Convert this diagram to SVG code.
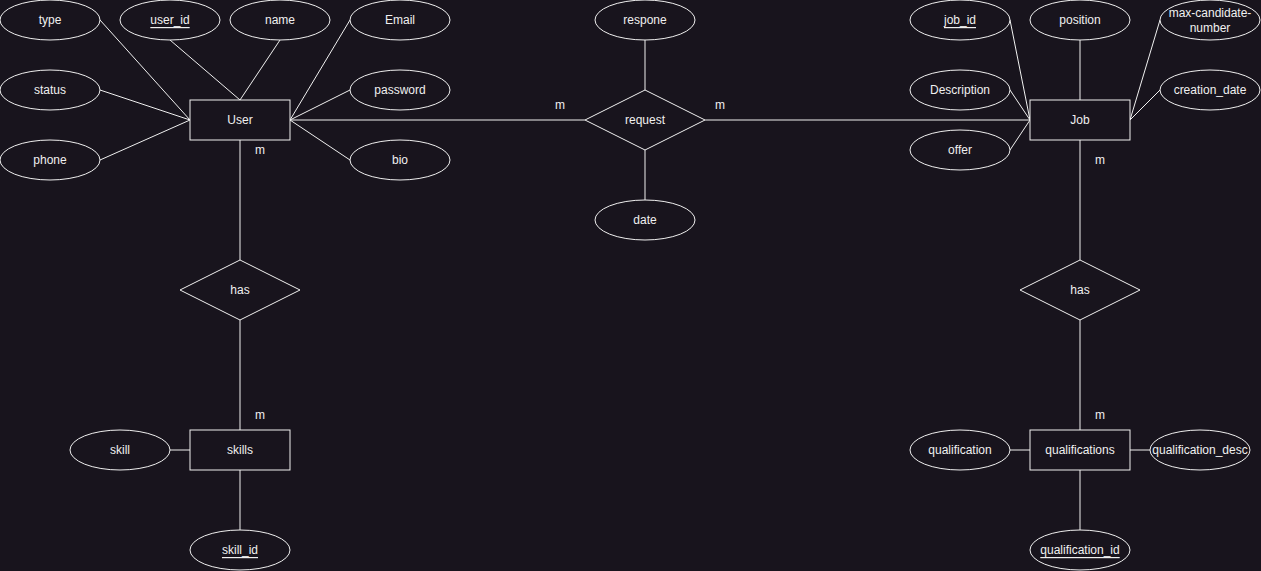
<svg xmlns="http://www.w3.org/2000/svg" width="1261" height="571" viewBox="0 0 1261 571">
  <style>
    .bg { fill: #18141d; }
    .shape { fill: #18141d; stroke: #f0f0f0; stroke-width: 1; }
    .edge { stroke: #f0f0f0; stroke-width: 1; fill: none; }
    text { font-family: "Liberation Sans", Arial, sans-serif; font-size: 12px; fill: #f0f0f0; text-anchor: middle; dominant-baseline: central; }
    .key { text-decoration: underline; }
  </style>
  <rect class="bg" x="0" y="0" width="1261" height="571"/>

  <!-- connectors -->
  <g id="connectors">
    <!-- User attributes -->
    <line class="edge" x1="100" y1="20" x2="190" y2="120"/>
    <line class="edge" x1="170" y1="40" x2="240" y2="100"/>
    <line class="edge" x1="280" y1="40" x2="240" y2="100"/>
    <line class="edge" x1="350" y1="20" x2="290" y2="120"/>
    <line class="edge" x1="100" y1="90" x2="190" y2="120"/>
    <line class="edge" x1="100" y1="160" x2="190" y2="120"/>
    <line class="edge" x1="350" y1="90" x2="290" y2="120"/>
    <line class="edge" x1="350" y1="160" x2="290" y2="120"/>
    <!-- request relationship -->
    <line class="edge" x1="290" y1="120" x2="585" y2="120"/>
    <line class="edge" x1="705" y1="120" x2="1030" y2="120"/>
    <line class="edge" x1="645" y1="40" x2="645" y2="90"/>
    <line class="edge" x1="645" y1="150" x2="645" y2="200"/>
    <!-- Job attributes -->
    <line class="edge" x1="1010" y1="20" x2="1030" y2="120"/>
    <line class="edge" x1="1080" y1="40" x2="1080" y2="100"/>
    <line class="edge" x1="1160" y1="20" x2="1130" y2="120"/>
    <line class="edge" x1="1010" y1="90" x2="1030" y2="120"/>
    <line class="edge" x1="1010" y1="150" x2="1030" y2="120"/>
    <line class="edge" x1="1160" y1="90" x2="1130" y2="120"/>
    <!-- User has skills -->
    <line class="edge" x1="240" y1="140" x2="240" y2="260"/>
    <line class="edge" x1="240" y1="320" x2="240" y2="430"/>
    <line class="edge" x1="170" y1="450" x2="190" y2="450"/>
    <line class="edge" x1="240" y1="470" x2="240" y2="530"/>
    <!-- Job has qualifications -->
    <line class="edge" x1="1080" y1="140" x2="1080" y2="260"/>
    <line class="edge" x1="1080" y1="320" x2="1080" y2="430"/>
    <line class="edge" x1="1010" y1="450" x2="1030" y2="450"/>
    <line class="edge" x1="1130" y1="450" x2="1150" y2="450"/>
    <line class="edge" x1="1080" y1="470" x2="1080" y2="530"/>
    <!-- cardinalities -->
    <text x="560" y="105">m</text>
    <text x="720" y="105">m</text>
    <text x="260" y="150">m</text>
    <text x="260" y="415">m</text>
    <text x="1100" y="160">m</text>
    <text x="1100" y="415">m</text>
  </g>

  <!-- User entity and attributes -->
  <g id="user"><rect class="shape" x="190" y="100" width="100" height="40"/><text x="240" y="120">User</text></g>
  <g id="attr-type"><ellipse class="shape" cx="50" cy="20" rx="50" ry="20"/><text x="50" y="20">type</text></g>
  <g id="attr-user_id"><ellipse class="shape" cx="170" cy="20" rx="50" ry="20"/><text class="key" x="170" y="20">user_id</text></g>
  <g id="attr-name"><ellipse class="shape" cx="280" cy="20" rx="50" ry="20"/><text x="280" y="20">name</text></g>
  <g id="attr-email"><ellipse class="shape" cx="400" cy="20" rx="50" ry="20"/><text x="400" y="20">Email</text></g>
  <g id="attr-status"><ellipse class="shape" cx="50" cy="90" rx="50" ry="20"/><text x="50" y="90">status</text></g>
  <g id="attr-password"><ellipse class="shape" cx="400" cy="90" rx="50" ry="20"/><text x="400" y="90">password</text></g>
  <g id="attr-phone"><ellipse class="shape" cx="50" cy="160" rx="50" ry="20"/><text x="50" y="160">phone</text></g>
  <g id="attr-bio"><ellipse class="shape" cx="400" cy="160" rx="50" ry="20"/><text x="400" y="160">bio</text></g>

  <!-- request relationship -->
  <g id="request"><polygon class="shape" points="645,90 705,120 645,150 585,120"/><text x="645" y="120">request</text></g>
  <g id="attr-respone"><ellipse class="shape" cx="645" cy="20" rx="50" ry="20"/><text x="645" y="20">respone</text></g>
  <g id="attr-date"><ellipse class="shape" cx="645" cy="220" rx="50" ry="20"/><text x="645" y="220">date</text></g>

  <!-- Job entity and attributes -->
  <g id="job"><rect class="shape" x="1030" y="100" width="100" height="40"/><text x="1080" y="120">Job</text></g>
  <g id="attr-job_id"><ellipse class="shape" cx="960" cy="20" rx="50" ry="20"/><text class="key" x="960" y="20">job_id</text></g>
  <g id="attr-position"><ellipse class="shape" cx="1080" cy="20" rx="50" ry="20"/><text x="1080" y="20">position</text></g>
  <g id="attr-max-candidate-number"><ellipse class="shape" cx="1210" cy="20" rx="50" ry="20"/><text x="1210" y="13">max-candidate-</text><text x="1210" y="28">number</text></g>
  <g id="attr-description"><ellipse class="shape" cx="960" cy="90" rx="50" ry="20"/><text x="960" y="90">Description</text></g>
  <g id="attr-creation_date"><ellipse class="shape" cx="1210" cy="90" rx="50" ry="20"/><text x="1210" y="90">creation_date</text></g>
  <g id="attr-offer"><ellipse class="shape" cx="960" cy="150" rx="50" ry="20"/><text x="960" y="150">offer</text></g>

  <!-- User has skills -->
  <g id="has-skills"><polygon class="shape" points="240,260 300,290 240,320 180,290"/><text x="240" y="290">has</text></g>
  <g id="skills"><rect class="shape" x="190" y="430" width="100" height="40"/><text x="240" y="450">skills</text></g>
  <g id="attr-skill"><ellipse class="shape" cx="120" cy="450" rx="50" ry="20"/><text x="120" y="450">skill</text></g>
  <g id="attr-skill_id"><ellipse class="shape" cx="240" cy="550" rx="50" ry="20"/><text class="key" x="240" y="550">skill_id</text></g>

  <!-- Job has qualifications -->
  <g id="has-qualifications"><polygon class="shape" points="1080,260 1140,290 1080,320 1020,290"/><text x="1080" y="290">has</text></g>
  <g id="qualifications"><rect class="shape" x="1030" y="430" width="100" height="40"/><text x="1080" y="450">qualifications</text></g>
  <g id="attr-qualification"><ellipse class="shape" cx="960" cy="450" rx="50" ry="20"/><text x="960" y="450">qualification</text></g>
  <g id="attr-qualification_desc"><ellipse class="shape" cx="1200" cy="450" rx="50" ry="20"/><text x="1200" y="450">qualification_desc</text></g>
  <g id="attr-qualification_id"><ellipse class="shape" cx="1080" cy="550" rx="50" ry="20"/><text class="key" x="1080" y="550">qualification_id</text></g>
</svg>
